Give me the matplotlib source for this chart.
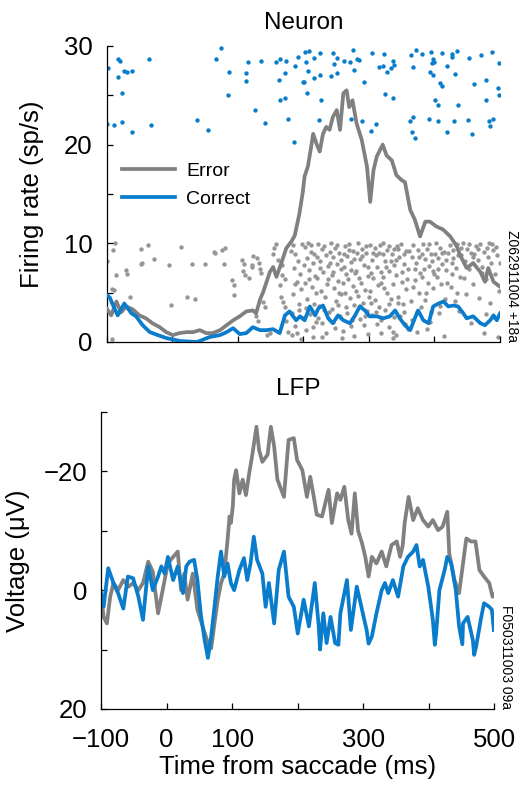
import matplotlib
matplotlib.use('Agg')
import matplotlib.pyplot as plt

plt.rcParams['font.family'] = ['Liberation Sans', 'DejaVu Sans']

gray = '#808080'
blue = '#0a7ccc'

# Neuron: smoothed firing rate (ms, sp/s)
err_t = [-100, -93, -85, -78, -70, -60, -50, -40, -30, -19, -9, 1, 11, 22, 32, 42, 52, 62, 73, 83,
         93, 103, 113, 123, 128, 134, 139, 144, 149, 154, 159, 167, 174, 182, 187, 194, 199, 202, 207,
         212, 215, 220, 225, 230, 235, 240, 245, 251, 256, 261, 266, 270, 275, 281, 289, 297, 302, 307,
         312, 321, 327, 335, 342, 350, 355, 363, 370, 378, 386, 393, 403, 413, 424, 434, 439, 449, 459,
         470, 477, 482, 490, 500]
err_fr = [3.4, 2.7, 4.1, 3.0, 3.6, 3.3, 2.7, 2.4, 1.9, 1.5, 1.0, 0.7, 0.9, 1.0, 1.0, 1.2, 0.9, 0.9, 1.2, 1.7,
          2.2, 2.6, 3.1, 3.2, 2.9, 4.3, 5.1, 6.1, 7.1, 7.6, 6.6, 8.1, 9.5, 10.2, 10.8, 13.0, 15.1, 16.8, 17.8,
          19.8, 21.1, 20.1, 19.3, 21.1, 21.8, 21.5, 22.8, 23.5, 21.5, 25.2, 25.5, 23.8, 24.5, 22.2, 20.5, 17.8, 14.2, 17.4,
          18.8, 20.0, 18.9, 18.4, 16.9, 16.4, 16.2, 13.4, 12.4, 10.7, 12.2, 12.2, 11.7, 11.4, 10.7, 9.7, 8.8, 7.5, 8.0,
          7.1, 6.1, 7.5, 6.1, 5.6]
cor_t = [-100, -95, -90, -83, -73, -62, -55, -45, -34, -22, -9, 12, 37, 42, 57, 73, 83, 93, 103, 113,
         123, 134, 144, 154, 164, 172, 179, 189, 195, 202, 210, 218, 223, 230, 238, 245, 253, 261, 271, 279,
         286, 294, 301, 312, 322, 332, 340, 347, 355, 363, 370, 375, 383, 391, 398, 406, 414, 421, 429, 436,
         444, 449, 459, 470, 477, 485, 490, 495, 500]
cor_fr = [4.8, 4.5, 3.7, 2.7, 3.9, 2.9, 2.6, 1.7, 1.0, 0.7, 0.4, 0.1, 0.0, 0.1, 0.5, 0.7, 1.0, 1.4, 0.8, 0.9,
          1.5, 1.2, 1.2, 1.3, 0.9, 2.7, 3.1, 2.2, 2.6, 2.2, 3.6, 2.7, 3.4, 3.7, 2.4, 1.9, 2.7, 2.2, 1.9, 2.7,
          3.6, 3.2, 2.6, 2.6, 2.4, 2.6, 3.2, 2.4, 1.7, 1.2, 2.4, 3.2, 2.2, 1.9, 3.6, 3.9, 4.1, 3.6, 3.7, 3.6,
          2.9, 2.4, 2.6, 1.9, 1.7, 2.2, 2.7, 2.2, 2.9]

# raster of correct trials (ms, row position)
blue_spikes = [
    (-98, 27.8), (-82, 28.7), (-79, 28.5), (-83, 26.9), (-74, 27.5), (-69, 27.4), (-61, 27.5), (-35, 28.7),
    (-77, 25.2), (-99, 22.1), (-88, 22.0), (-76, 22.3), (-61, 21.3), (-33, 22.0), (38, 22.5), (54, 21.5),
    (67, 28.7), (74, 29.8), (87, 27.4), (85, 25.0), (115, 28.4), (112, 27.3), (113, 26.5), (127, 23.5),
    (135, 28.5), (141, 22.2), (159, 28.4), (165, 28.7), (173, 28.5), (163, 26.6), (172, 27.3), (165, 24.5),
    (172, 24.7), (177, 22.6), (187, 28.0), (192, 28.9), (200, 26.4), (186, 20.3),
    (203, 29.4), (208, 29.5), (225, 29.3), (245, 29.3), (275, 29.6), (305, 29.3), (323, 29.2), (216, 28.8),
    (251, 28.8), (204, 28.4), (247, 28.2), (262, 28.5), (271, 28.4), (282, 28.7), (285, 28.6), (207, 27.5),
    (226, 27.1), (217, 26.8), (242, 27.0), (251, 27.3), (278, 27.6), (316, 27.9), (321, 28.0), (328, 27.4),
    (334, 27.8), (336, 28.5), (339, 28.1), (201, 26.4), (293, 26.4), (205, 25.2), (227, 24.5), (325, 25.1),
    (336, 24.7), (272, 22.6), (290, 22.4), (224, 22.5), (311, 22.1), (303, 21.4), (364, 29.1), (372, 29.6),
    (381, 29.2), (395, 29.4), (411, 29.3), (426, 29.2), (426, 28.9), (434, 29.5), (453, 28.8), (471, 29.1),
    (487, 29.4), (397, 28.7), (396, 28.3), (400, 28.4), (368, 27.9), (419, 28.0), (498, 28.3), (393, 27.4),
    (397, 27.1), (432, 27.2), (478, 26.6), (409, 26.2), (412, 25.9), (460, 26.1), (497, 25.7), (499, 25.0),
    (401, 24.5), (405, 24.0), (436, 24.0), (478, 24.5), (362, 22.4), (367, 22.8), (391, 22.6), (405, 22.4),
    (430, 22.4), (451, 22.5), (483, 22.4), (489, 22.6), (485, 21.9), (365, 21.3), (371, 20.7), (419, 21.3),
    (457, 21.1),
]

# raster of error trials (ms, row position)
gray_spikes = [
    (-99, 8.2), (-90, 9.3), (-87, 10.0), (-91, 5.4), (-88, 5.3), (-85, 6.8), (-70, 7.3), (-69, 6.9),
    (-65, 4.6), (-92, 0.3), (-48, 7.9), (-46, 8.0), (-48, 9.4), (-37, 9.8), (-28, 8.4), (-5, 7.8),
    (-2, 3.7), (13, 9.6), (22, 4.6), (35, 4.4), (31, 7.9), (50, 7.9), (64, 9.1), (66, 9.0), (76, 9.3),
    (81, 9.5), (79, 7.9), (92, 6.3), (94, 5.8), (95, 4.8), (107, 8.3), (109, 7.9), (108, 7.2), (111, 6.8),
    (117, 6.5), (121, 7.6), (122, 7.8), (123, 8.7), (132, 8.0), (134, 7.4), (130, 8.5), (135, 7.0),
    (139, 4.1), (141, 3.5), (128, 2.6), (131, 2.1), (144, 0.7), (149, 0.9), (155, 9.5), (159, 9.9),
    (154, 8.9), (162, 8.3), (167, 7.8), (168, 6.8), (172, 6.4), (164, 5.8), (166, 4.6), (169, 4.1),
    (172, 3.5), (174, 2.1), (177, 1.0), (182, 0.7),
    (185, 9.8), (188, 8.9), (192, 8.2), (186, 7.5), (195, 6.9), (190, 6.1), (197, 5.4), (184, 4.9),
    (193, 3.2), (199, 2.4), (188, 1.6), (196, 0.3),
    (203, 9.6), (207, 10.0), (212, 9.1), (205, 8.5), (215, 8.0), (209, 7.3), (218, 6.7), (202, 6.0),
    (213, 5.6), (206, 4.4), (216, 3.9), (210, 2.8), (219, 2.0), (204, 1.2), (214, 0.5),
    (222, 9.9), (228, 9.4), (234, 8.8), (225, 8.2), (238, 7.7), (230, 7.1), (221, 6.5), (236, 5.9),
    (227, 5.2), (233, 4.6), (224, 3.6), (239, 3.0), (229, 1.9), (235, 0.9),
    (242, 10.0), (248, 9.5), (255, 9.0), (245, 8.6), (251, 7.9), (258, 7.4), (243, 6.8), (253, 6.2),
    (247, 5.5), (257, 4.9), (250, 4.2), (244, 3.3), (256, 2.6), (249, 1.4), (259, 0.4),
    (263, 9.7), (270, 9.9), (276, 9.2), (266, 8.7), (273, 8.1), (262, 7.6), (279, 7.0), (268, 6.4),
    (275, 5.7), (264, 5.0), (271, 4.5), (278, 3.7), (267, 2.9), (274, 2.2), (261, 1.1), (277, 0.6),
    (283, 10.0), (289, 9.4), (296, 9.0), (286, 8.4), (293, 7.8), (281, 7.2), (298, 6.7), (288, 6.0),
    (294, 5.3), (284, 4.7), (291, 4.0), (297, 3.1), (287, 2.3), (292, 1.7), (299, 0.8),
    (302, 9.8), (309, 9.5), (315, 9.0), (305, 8.3), (312, 7.6), (318, 7.1), (307, 6.5), (314, 5.8),
    (301, 5.2), (310, 4.3), (316, 3.5), (304, 2.7), (313, 1.8), (319, 0.9),
    (322, 10.0), (328, 9.3), (335, 8.9), (325, 8.2), (338, 7.8), (331, 7.2), (321, 6.6), (336, 5.9),
    (327, 5.0), (333, 4.4), (324, 3.2), (339, 2.5), (330, 1.5), (336, 0.4),
    (343, 9.7), (349, 9.9), (356, 9.2), (346, 8.6), (353, 7.9), (359, 7.4), (342, 6.8), (350, 6.1),
    (357, 5.4), (345, 4.6), (352, 3.8), (348, 2.6), (355, 1.8), (341, 0.7),
    (368, 9.8), (375, 9.3), (372, 8.0), (378, 7.0), (370, 6.3), (376, 5.0), (364, 4.2), (379, 3.5),
    (366, 2.2), (374, 1.0),
    (383, 9.9), (388, 9.4), (395, 8.9), (385, 8.4), (392, 7.7), (398, 7.2), (381, 6.6), (390, 6.0),
    (397, 5.5), (386, 4.3), (394, 3.0), (389, 1.3),
    (402, 10.0), (408, 9.5), (415, 9.1), (405, 8.5), (412, 7.9), (418, 7.3), (404, 6.6), (410, 5.9),
    (416, 4.4), (407, 2.9), (414, 0.6),
    (423, 9.8), (429, 9.3), (436, 8.8), (426, 8.0), (433, 7.5), (439, 6.6), (425, 5.6), (431, 4.2), (437, 3.1),
    (443, 10.0), (449, 9.4), (456, 9.0), (446, 8.2), (453, 7.4), (458, 5.9), (448, 4.9), (455, 1.9),
    (463, 9.7), (470, 9.9), (476, 9.1), (466, 8.3), (473, 7.6), (479, 6.4), (468, 4.5), (475, 0.9), (478, 2.8),
    (483, 10.0), (489, 9.3), (496, 8.8), (486, 8.0), (493, 6.9), (498, 5.2), (485, 4.0), (497, 0.5), (491, 2.5),
    (181, 9.2), (187, 5.9), (194, 3.8), (198, 9.9), (183, 2.9), (191, 0.9),
    (201, 7.8), (208, 6.4), (211, 9.8), (217, 8.9), (204, 3.4), (215, 1.5), (219, 5.0),
    (221, 8.6), (226, 7.5), (231, 9.7), (237, 6.4), (223, 2.4), (232, 3.2), (240, 9.1), (228, 0.5),
    (241, 8.0), (246, 7.1), (252, 9.8), (254, 5.0), (258, 8.3), (246, 2.0), (253, 3.7), (260, 6.0),
    (262, 8.9), (265, 6.9), (269, 9.3), (272, 7.3), (277, 8.4), (280, 5.2), (265, 3.5), (272, 1.6),
    (282, 9.0), (285, 6.5), (290, 8.7), (295, 9.7), (299, 7.6), (286, 3.6), (294, 2.6), (300, 4.6),
    (303, 7.0), (306, 9.0), (311, 8.8), (317, 9.8), (319, 6.0), (303, 4.0), (311, 3.0), (318, 2.2),
    (321, 8.9), (326, 7.6), (330, 9.7), (334, 8.2), (339, 9.4), (323, 5.5), (331, 3.9), (337, 1.0),
    (341, 8.3), (345, 9.4), (351, 7.1), (354, 8.9), (358, 6.4), (344, 4.0), (353, 3.0), (359, 1.3),
    (361, 9.2), (365, 8.6), (371, 7.4), (377, 8.6), (367, 5.6), (373, 3.0),
    (381, 8.9), (384, 7.4), (391, 9.9), (396, 8.2), (400, 6.9), (387, 5.0), (393, 2.0),
    (401, 8.9), (406, 7.4), (411, 9.0), (417, 8.3), (419, 6.0), (409, 3.6),
    (421, 9.0), (428, 8.5), (434, 9.9), (440, 9.5), (427, 6.9), (435, 5.0),
    (441, 8.8), (452, 9.9), (459, 8.6), (445, 6.5),
    (461, 8.9), (467, 9.4), (472, 7.0), (480, 9.5),
    (481, 8.6), (488, 9.9), (494, 9.6), (500, 8.0),
]

# LFP (ms, uV)
lfp_err_t = [-101, -96, -91, -86, -81, -74, -66, -58, -51, -43, -36, -28, -21, -13, -6, 2, 10, 17, 22, 27,
             32, 40, 47, 55, 63, 68, 73, 78, 83, 88, 93, 96, 98, 101, 103, 106, 111, 116, 121, 126, 131,
             137, 141, 146, 154, 159, 164, 169, 179, 186, 194, 199, 207, 214, 219, 224, 229, 237, 247, 252,
             260, 265, 271, 277, 282, 287, 292, 298, 303, 308, 313, 320, 328, 335, 343, 351, 356, 360, 363,
             369, 376, 383, 391, 399, 406, 414, 421, 428, 431, 439, 446, 452, 457, 464, 471, 477, 484, 492,
             497, 499]
lfp_err_v = [0.0, 4.5, 5.6, 1.1, -1.2, 0.0, -1.7, -0.6, -1.2, 0.0, -1.2, -4.8, -3.1, 3.9, 0.0, -4.5, -5.6, -6.5, 0.0, -2.8,
             1.6, -2.8, 3.3, 6.1, 8.9, 9.8, 5.6, 1.6, -1.2, -2.8, -8.5, -12.4, -11.3, -14.1, -18.6, -20.2, -16.3, -18.6, -16.0, -19.7, -23.0,
             -27.5, -23.6, -21.6, -22.8, -27.5, -24.2, -18.6, -15.7, -25.3, -25.6, -21.9, -20.2, -15.7, -19.1, -16.0, -12.7, -12.4, -16.9, -11.3,
             -16.3, -15.2, -17.4, -11.8, -9.5, -16.3, -10.0, -7.9, -5.6, -2.3, -5.6, -4.5, -6.5, -4.0, -7.6, -8.2, -5.6, -7.5, -11.3,
             -15.7, -11.8, -13.8, -11.8, -10.7, -11.8, -10.1, -10.7, -13.2, -6.2, -1.7, 0.5, -4.5, -8.7, -8.2, -8.2, -3.4, -2.3, -1.2,
             1.1, 0.8]
lfp_cor_t = [-101, -96, -89, -81, -74, -66, -59, -51, -43, -36, -28, -21, -13, -8, -3, 2, 10, 17, 25, 30,
             35, 42, 47, 52, 58, 63, 68, 73, 78, 83, 88, 93, 98, 103, 111, 118, 123, 128, 133, 138,
             146, 151, 156, 164, 171, 179, 186, 194, 200, 209, 217, 226, 232, 234, 239, 244, 250, 257, 262, 265,
             275, 281, 290, 298, 305, 308, 313, 320, 328, 333, 338, 345, 353, 361, 368, 376, 381, 386, 391,
             399, 406, 409, 411, 416, 424, 428, 434, 441, 446, 451, 452, 459, 467, 469, 472, 479, 484, 492,
             496, 499]
lfp_cor_v = [0.0, 2.8, -3.7, -1.2, 0.5, 3.1, -2.3, -2.0, 1.1, 5.0, -4.0, 0.0, -2.3, -4.0, -2.8, -5.6, -1.7, -4.0, 0.5, -4.0,
             -4.8, -5.1, -1.7, 3.9, 8.4, 11.4, 7.8, 2.8, -2.3, -6.5, -2.3, -4.5, -1.2, 0.0, -3.4, -5.4, -1.7, -4.5, -9.0, -5.1,
             -2.8, 2.8, -1.2, 5.6, -3.4, -6.5, 1.1, 2.8, 7.3, 1.6, 6.1, -1.2, 6.1, 10.0, 3.9, 8.9, 4.5, 8.9, 9.2, 3.9,
             -1.7, 6.7, -0.6, 3.3, 6.7, 9.0, 7.8, 3.9, 0.0, -1.2, 0.5, -1.7, 1.1, -4.0, -5.6, -6.5, -7.6, -4.0, -5.1,
             -0.6, 5.0, 9.2, 7.3, 0.0, -3.4, -5.6, -4.5, 0.0, 6.1, 9.1, 5.6, 4.5, 8.4, 10.9, 9.5, 5.0, 2.2, 2.8,
             3.3, 6.7]

x_ticks = [-100, 0, 100, 200, 300, 400, 500]
x_ticklabels = ['\u2212100', '0', '100', '', '300', '', '500']

fig = plt.figure(figsize=(5.25, 7.86), dpi=100)
ax1 = fig.add_axes([0.203, 0.5649, 0.7495, 0.3766])
ax2 = fig.add_axes([0.1924, 0.098, 0.7495, 0.3779])

ax1.scatter([s[0] for s in gray_spikes], [s[1] for s in gray_spikes], s=10, color='#969696', linewidths=0, zorder=1)
ax1.scatter([s[0] for s in blue_spikes], [s[1] for s in blue_spikes], s=10, color=blue, linewidths=0, zorder=1)
ax1.plot(err_t, err_fr, color=gray, lw=2.7, label='Error', zorder=3)
ax1.plot(cor_t, cor_fr, color=blue, lw=2.7, label='Correct', zorder=3)
ax1.set_xlim(-100, 500)
ax1.set_ylim(0, 30)
ax1.set_yticks([0, 5, 10, 15, 20, 25, 30])
ax1.set_yticklabels(['0', '', '10', '', '20', '', '30'])
ax1.set_xticks(x_ticks)
ax1.set_xticklabels([])
ax1.set_ylabel('Firing rate (sp/s)', fontsize=18.5, labelpad=14)
ax1.set_title('Neuron', fontsize=17.5, pad=12)
ax1.legend(loc='upper left', bbox_to_anchor=(0.015, 0.64), frameon=False, fontsize=14,
           handlelength=2.7, handletextpad=0.6, labelspacing=0.55, borderpad=0)
ax1.text(1.03, 0.0, 'Z062911004 +18a', transform=ax1.transAxes, rotation=-90,
         fontsize=10, va='bottom', ha='center')

ax2.plot(lfp_err_t, lfp_err_v, color=gray, lw=2.7)
ax2.plot(lfp_cor_t, lfp_cor_v, color=blue, lw=2.7)
ax2.set_xlim(-100, 500)
ax2.set_ylim(20, -30)
ax2.set_yticks([-30, -20, -10, 0, 10, 20])
ax2.set_yticklabels(['', '\u221220', '', '0', '', '20'])
ax2.set_xticks(x_ticks)
ax2.set_xticklabels(x_ticklabels)
ax2.set_ylabel('Voltage (\u03bcV)', fontsize=18.5, labelpad=10)
ax2.set_xlabel('Time from saccade (ms)', fontsize=18.5, labelpad=2)
ax2.set_title('LFP', fontsize=17.5, pad=12)
ax2.text(1.03, 0.0, 'F050311003 09a', transform=ax2.transAxes, rotation=-90,
         fontsize=10, va='bottom', ha='center')

for ax in (ax1, ax2):
    ax.spines['top'].set_visible(False)
    ax.spines['right'].set_visible(False)
    ax.spines['left'].set_linewidth(0.9)
    ax.spines['bottom'].set_linewidth(0.9)
    ax.tick_params(direction='in', length=4, width=0.9, labelsize=18.5)
    ax.tick_params(axis='y', pad=10)
    ax.tick_params(axis='x', pad=14)

fig.savefig('out.png', dpi=100)
